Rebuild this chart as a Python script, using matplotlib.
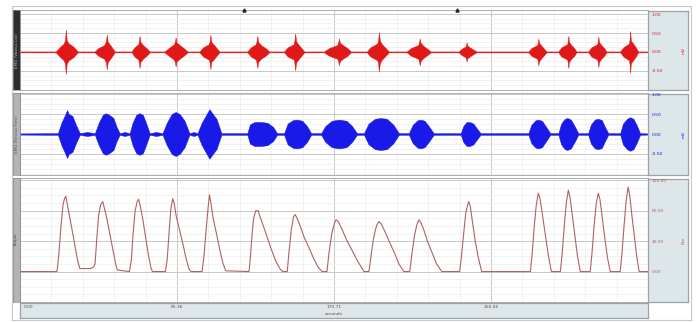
import numpy as np
import matplotlib.pyplot as plt
from matplotlib.transforms import blended_transform_factory

# time axis (seconds)
x_end = 341.42
x_ticks = [0.0, 85.36, 170.71, 256.06]
x_tick_labels = ["0.00", "85.36", "170.71", "256.06"]

# EMG channel 1 (red) - envelope, (time, half amplitude)
red_t = [0, 19.5,
         19.5, 21.5, 23.8, 24.5, 24.9, 25.4, 26.5, 29.0, 31.4,
         40.6, 42.5, 45.8, 46.7, 47.2, 47.7, 48.8, 50.2, 51.5,
         60.7, 62.2, 64.3, 64.7, 65.0, 65.5, 66.8, 68.8, 70.5,
         78.6, 80.8, 83.6, 84.2, 84.6, 85.1, 86.8, 89.0, 91.1,
         97.6, 99.5, 102.6, 103.1, 103.5, 104.0, 105.2, 106.9, 108.4,
         123.6, 125.5, 128.2, 128.6, 129.0, 129.5, 131.0, 133.5, 135.5,
         143.6, 145.5, 148.8, 149.2, 149.6, 150.1, 151.3, 153.0, 154.5,
         165.3, 168.0, 172.5, 173.0, 173.4, 173.9, 175.5, 178.0, 179.9,
         188.6, 190.5, 194.2, 194.7, 195.1, 195.6, 196.8, 198.8, 200.5,
         210.3, 212.5, 216.5, 216.9, 217.3, 217.8, 219.3, 221.5, 223.3,
         238.5, 240.0, 242.2, 242.5, 242.8, 243.2, 244.5, 246.5, 248.2,
         276.4, 278.0, 281.2, 281.5, 281.8, 282.2, 283.5, 285.0, 286.2,
         292.7, 294.3, 297.5, 297.8, 298.1, 298.5, 299.7, 301.3, 302.5,
         309.0, 310.6, 313.8, 314.1, 314.4, 314.8, 316.0, 317.6, 318.8,
         326.3, 328.0, 331.1, 331.4, 331.7, 332.1, 333.3, 334.8, 336.0,
         341.42]
red_a = [0.012, 0.012,
         0.012, 0.12, 0.22, 0.32, 0.58, 0.30, 0.22, 0.14, 0.012,
         0.012, 0.10, 0.18, 0.28, 0.45, 0.26, 0.20, 0.10, 0.012,
         0.012, 0.12, 0.20, 0.28, 0.42, 0.26, 0.18, 0.10, 0.012,
         0.012, 0.10, 0.20, 0.26, 0.38, 0.25, 0.18, 0.10, 0.012,
         0.012, 0.12, 0.20, 0.28, 0.45, 0.26, 0.20, 0.10, 0.012,
         0.012, 0.12, 0.20, 0.28, 0.42, 0.26, 0.18, 0.10, 0.012,
         0.012, 0.12, 0.20, 0.30, 0.48, 0.28, 0.20, 0.10, 0.012,
         0.012, 0.10, 0.18, 0.25, 0.35, 0.24, 0.18, 0.10, 0.012,
         0.012, 0.12, 0.22, 0.30, 0.52, 0.30, 0.20, 0.10, 0.012,
         0.012, 0.10, 0.18, 0.24, 0.35, 0.24, 0.16, 0.08, 0.012,
         0.012, 0.08, 0.14, 0.18, 0.25, 0.17, 0.12, 0.06, 0.012,
         0.012, 0.10, 0.18, 0.24, 0.35, 0.24, 0.16, 0.08, 0.012,
         0.012, 0.12, 0.20, 0.28, 0.42, 0.26, 0.18, 0.10, 0.012,
         0.012, 0.12, 0.20, 0.27, 0.40, 0.26, 0.18, 0.10, 0.012,
         0.012, 0.12, 0.22, 0.32, 0.55, 0.30, 0.22, 0.12, 0.012,
         0.012]

# EMG channel 2 (blue)
blue_t = [0, 18.0,
          20.6, 22.5, 24.5, 25.6, 26.5, 28.5, 30.5, 32.5,
          36.5,
          40.7, 42.8, 45.0, 46.6, 48.5, 50.8, 52.5, 54.2,
          57.0,
          59.6, 61.2, 63.2, 65.0, 66.8, 68.5, 70.5,
          74.0,
          77.5, 79.8, 82.5, 84.6, 86.8, 89.5, 92.1,
          94.5,
          96.5, 98.8, 101.5, 103.0, 104.5, 106.8, 109.5,
          123.6, 125.0, 127.5, 131.0, 134.5, 137.5, 139.8,
          143.6, 145.5, 148.5, 150.7, 153.5, 156.0, 158.3,
          163.7, 166.0, 169.5, 173.4, 177.5, 180.5, 183.2,
          187.0, 189.5, 193.0, 196.0, 199.5, 203.0, 206.0,
          211.4, 213.5, 216.0, 217.8, 220.0, 222.5, 224.9,
          239.6, 241.0, 242.8, 244.5, 246.5, 248.5, 250.4,
          276.4, 278.0, 280.2, 281.8, 283.8, 286.0, 288.3,
          292.7, 294.2, 296.2, 297.6, 299.5, 301.5, 303.5,
          308.9, 310.4, 312.5, 314.4, 316.3, 318.0, 319.8,
          326.3, 327.8, 330.0, 331.7, 333.5, 335.3, 337.1,
          341.42]
blue_a = [0.015, 0.02,
          0.02, 0.28, 0.48, 0.60, 0.50, 0.45, 0.22, 0.02,
          0.05,
          0.02, 0.28, 0.48, 0.52, 0.48, 0.40, 0.18, 0.02,
          0.05,
          0.02, 0.28, 0.48, 0.52, 0.48, 0.28, 0.02,
          0.05,
          0.02, 0.28, 0.50, 0.55, 0.50, 0.33, 0.02,
          0.05,
          0.02, 0.28, 0.50, 0.62, 0.52, 0.38, 0.02,
          0.02, 0.24, 0.30, 0.30, 0.28, 0.18, 0.02,
          0.02, 0.26, 0.35, 0.36, 0.33, 0.20, 0.02,
          0.02, 0.20, 0.33, 0.36, 0.33, 0.20, 0.02,
          0.02, 0.26, 0.38, 0.40, 0.38, 0.23, 0.02,
          0.02, 0.23, 0.34, 0.36, 0.33, 0.18, 0.02,
          0.02, 0.20, 0.30, 0.30, 0.26, 0.13, 0.02,
          0.02, 0.23, 0.34, 0.36, 0.33, 0.18, 0.02,
          0.02, 0.26, 0.38, 0.40, 0.36, 0.20, 0.02,
          0.02, 0.24, 0.36, 0.38, 0.35, 0.18, 0.02,
          0.02, 0.26, 0.38, 0.42, 0.38, 0.22, 0.02,
          0.015]

# torque trace
torque_t = [0, 20.1, 21.0, 22.3, 23.4, 24.2, 24.9, 25.6, 26.8, 28.3, 29.8, 31.3, 32.5, 38.5,
            40.0, 40.8, 41.8, 42.8, 43.9, 45.0, 45.8, 47.2, 48.8, 50.5, 52.0, 53.0,
            59.5, 60.5, 61.5, 62.6, 63.7, 64.5, 65.4, 66.8, 68.3, 69.8, 71.2, 72.0,
            79.0, 80.0, 81.0, 82.0, 83.0, 83.8, 85.0, 86.7, 88.7, 90.5, 92.0, 93.0,
            99.0, 100.0, 101.2, 102.3, 103.0, 103.8, 105.0, 106.8, 108.5, 110.2, 111.8,
            124.5, 125.3, 126.2, 127.0, 128.2, 129.5, 130.5, 132.0, 134.0, 136.5, 139.0, 141.5, 143.0,
            145.3, 146.2, 147.5, 148.7, 149.6, 150.7, 152.3, 154.5, 157.0, 159.5, 162.0, 164.2,
            166.9, 168.0, 169.5, 171.0, 171.8, 173.0, 175.0, 177.5, 180.5, 183.5, 187.0,
            189.7, 190.8, 192.3, 193.8, 195.1, 196.5, 198.5, 201.0, 203.5, 206.0, 208.7,
            211.9, 213.0, 214.5, 215.8, 216.8, 218.0, 219.5, 221.5, 224.0, 226.5, 229.3,
            239.0, 240.0, 241.2, 242.4, 243.9, 244.8, 246.0, 247.5, 249.2, 251.0,
            277.5, 278.5, 279.6, 280.7, 281.8, 282.8, 284.0, 285.5, 287.2, 288.9,
            293.8, 294.8, 295.9, 297.0, 298.1, 299.0, 300.2, 301.6, 303.1, 304.6,
            310.0, 311.0, 312.1, 313.3, 314.4, 315.3, 316.5, 317.9, 319.4, 320.9,
            326.3, 327.3, 328.4, 329.5, 330.6, 331.5, 332.6, 333.9, 335.3, 336.6, 341.42]
torque_v = [0, 0, 20, 60, 88, 96, 99, 90, 75, 55, 35, 15, 4, 4,
            6, 10, 45, 75, 88, 92, 84, 70, 50, 28, 10, 2,
            0, 15, 50, 80, 92, 95, 86, 68, 45, 22, 5, 0,
            0, 15, 50, 82, 96, 90, 72, 55, 35, 15, 3, 0,
            0, 20, 55, 85, 101, 90, 70, 50, 30, 12, 1,
            0, 20, 50, 70, 80, 80, 72, 62, 48, 30, 14, 3, 0,
            0, 25, 55, 72, 75, 70, 60, 45, 32, 18, 6, 0,
            0, 25, 50, 64, 68, 66, 56, 42, 28, 14, 0,
            0, 20, 45, 60, 66, 62, 52, 38, 25, 10, 0,
            0, 22, 48, 62, 68, 64, 55, 40, 25, 10, 0,
            0, 20, 50, 78, 92, 86, 65, 40, 18, 0,
            0, 25, 60, 88, 103, 95, 75, 50, 22, 0,
            0, 25, 60, 90, 107, 98, 75, 48, 20, 0,
            0, 25, 60, 90, 103, 95, 72, 45, 18, 0,
            0, 25, 60, 92, 111, 100, 75, 48, 20, 0, 0]

emg_ticks = [-0.5, 0.0, 0.5, 1.0]
emg_tick_labels = ["-0.50", "0.00", "0.50", "1.00"]
torque_ticks = [0, 40, 80, 120]
torque_tick_labels = ["0.00", "40.00", "80.00", "120.00"]
channel_names = ["EMG (Vastus Lat)", "EMG (Rectus Fem)", "Torque"]
unit_names = ["mV", "mV", "Nm"]

W, H = 699, 322
fig = plt.figure(figsize=(W / 100, H / 100), dpi=100)
fig.patch.set_facecolor("white")


def px_axes(x0, y0, x1, y1, **kw):
    return fig.add_axes([x0 / W, 1 - y1 / H, (x1 - x0) / W, (y1 - y0) / H], **kw)


strip_bg = "#dde6e9"
edge = "#9aa3a6"
red, blue, brown = "#e01818", "#1a1ae8", "#b06262"

# outer light frame
frame = px_axes(12, 6, 691, 320)
frame.set_xticks([])
frame.set_yticks([])
for s in frame.spines.values():
    s.set_color("#c8c8c8")
    s.set_linewidth(0.8)
frame.set_zorder(-5)

# panel layout in pixels (top, bottom)
rows = [(10, 90), (93, 175), (178, 302)]
ylims = [(-0.95, 1.1), (-1.025, 1.025), (-38, 123)]
colors = [red, blue, brown]
left_bg = ["#2e2e2e", "#b4b4b4", "#b4b4b4"]
left_fg = ["#bbbbbb", "#555555", "#444444"]

major_x = np.linspace(0, x_end, 5)
minor_x = np.linspace(0, x_end, 21)

axes = []
for i, (y0, y1) in enumerate(rows):
    ax = px_axes(20, y0, 648, y1)
    ax.set_xlim(0, x_end)
    ax.set_ylim(*ylims[i])
    ax.set_xticks(major_x)
    ax.set_xticks(minor_x, minor=True)
    if i < 2:
        ax.set_yticks(emg_ticks)
        ax.set_yticks(np.arange(-1.0, 1.1, 0.125), minor=True)
    else:
        ax.set_yticks(torque_ticks)
        ax.set_yticks(np.arange(-40, 125, 10), minor=True)
    ax.grid(which="major", color="#c8c8c8", lw=0.7)
    ax.grid(which="minor", color="#ededed", lw=0.5)
    ax.tick_params(which="both", length=0, labelleft=False, labelbottom=False)
    for s in ax.spines.values():
        s.set_color(edge)
        s.set_linewidth(0.6)
    axes.append(ax)

    # left channel strip
    lx = px_axes(13, y0, 20, y1)
    lx.set_facecolor(left_bg[i])
    lx.set_xticks([])
    lx.set_yticks([])
    for s in lx.spines.values():
        s.set_color("#8a8a8a")
        s.set_linewidth(0.5)
    lx.text(0.5, 0.5, channel_names[i], rotation=90, ha="center", va="center",
            fontsize=3, color=left_fg[i], transform=lx.transAxes)

    # right scale strip
    rx = px_axes(648, y0 + 1, 688, y1, sharey=ax)
    rx.set_facecolor(strip_bg)
    rx.tick_params(which="both", length=0, labelleft=False, labelbottom=False)
    rx.set_xticks([])
    rx.grid(False)
    for s in rx.spines.values():
        s.set_color(edge)
        s.set_linewidth(0.9)
    trans = blended_transform_factory(rx.transAxes, rx.transData)
    ticks = emg_ticks if i < 2 else torque_ticks
    labels = emg_tick_labels if i < 2 else torque_tick_labels
    for v, lab in zip(ticks, labels):
        rx.text(0.1, v, lab, fontsize=3.2, color=colors[i], ha="left",
                va="center", transform=trans)
    rx.text(0.9, 0.5, unit_names[i], rotation=90, fontsize=3.2, color=colors[i],
            ha="center", va="center", transform=rx.transAxes)

ax_red, ax_blue, ax_torque = axes
ax_red.fill_between(red_t, -np.array(red_a), red_a, color=red, lw=0.35,
                    edgecolor=red, zorder=3)
ax_blue.fill_between(blue_t, -np.array(blue_a), blue_a, color=blue, lw=0.35,
                     edgecolor=blue, zorder=3)
ax_torque.plot(torque_t, torque_v, color=brown, lw=0.8, zorder=3)

# comment markers on the top edge
for tm in [122.0, 237.5]:
    ax_red.plot(tm, 1.1, marker="^", ms=2.2, color="#222222", clip_on=False, zorder=5)

# time axis strip
bx = px_axes(20, 303, 648, 318, sharex=ax_red)
bx.set_facecolor(strip_bg)
bx.set_yticks([])
bx.tick_params(which="both", length=0, labelbottom=False)
for s in bx.spines.values():
    s.set_color(edge)
    s.set_linewidth(0.9)
for v, lab in zip(x_ticks, x_tick_labels):
    bx.text(v if v > 0 else 2.0, 0.72, lab, fontsize=3.2, color="#555555",
            ha="center" if v > 0 else "left", va="center",
            transform=blended_transform_factory(bx.transData, bx.transAxes))
bx.text(x_ticks[2], 0.28, "seconds", fontsize=3.2, color="#555555", ha="center",
        va="center", transform=blended_transform_factory(bx.transData, bx.transAxes))

fig.savefig("out.png", dpi=100)
